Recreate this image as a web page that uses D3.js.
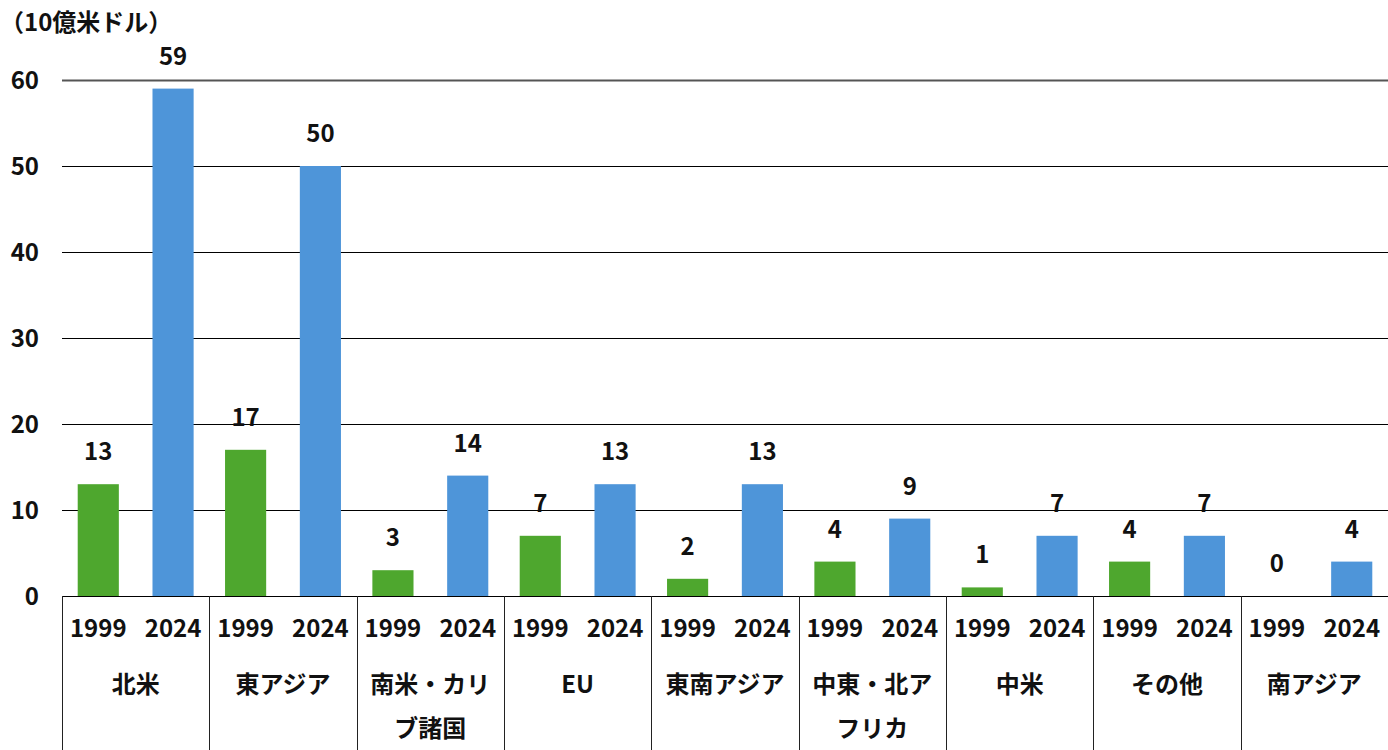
<!DOCTYPE html>
<html>
<head>
<meta charset="utf-8">
<script src="https://cdn.jsdelivr.net/npm/d3@7"></script>
<style>
  body { margin: 0; background: #fff; }
  text { font-family: "Noto Sans CJK JP", "Noto Sans", sans-serif; font-weight: 700; fill: #111; }
</style>
</head>
<body>
<script>
// data
const categories = ["北米", "東アジア", "南米・カリブ諸国", "EU", "東南アジア", "中東・北アフリカ", "中米", "その他", "南アジア"];
const categoryLines = [["北米"], ["東アジア"], ["南米・カリ", "ブ諸国"], ["EU"], ["東南アジア"], ["中東・北ア", "フリカ"], ["中米"], ["その他"], ["南アジア"]];
const years = ["1999", "2024"];
const values1999 = [13, 17, 3, 7, 2, 4, 1, 4, 0];
const values2024 = [59, 50, 14, 13, 13, 9, 7, 7, 4];
const yTicks = [0, 10, 20, 30, 40, 50, 60];
const unitLabel = "（10億米ドル）";

const width = 1388, height = 750;
const plotLeft = 62, plotRight = 1388, plotTop = 80, plotBottom = 596;
const colors = {"1999": "#4ea72e", "2024": "#4e95d9"};

const svg = d3.select("body").append("svg")
    .attr("width", width)
    .attr("height", height);

const x = d3.scaleBand()
    .domain(categories)
    .range([plotLeft, plotRight]);

const xInner = d3.scaleBand()
    .domain(years)
    .range([0, x.bandwidth()])
    .paddingInner(0.45)
    .paddingOuter(0.21);

const y = d3.scaleLinear()
    .domain([0, 60])
    .range([plotBottom, plotTop]);

//gridlines (behind the bars)
svg.append("g")
    .selectAll("line")
    .data(yTicks.filter(d => d > 0))
    .enter()
    .append("line")
    .attr("x1", plotLeft)
    .attr("x2", plotRight)
    .attr("y1", d => y(d) + 0.5)
    .attr("y2", d => y(d) + 0.5)
    .attr("stroke", d => d == 60 ? "#555" : "#000")
    .attr("stroke-width", d => d == 60 ? 2 : 1);

//y tick labels
svg.append("g")
    .selectAll("text")
    .data(yTicks)
    .enter()
    .append("text")
    .attr("x", 39)
    .attr("y", d => y(d))
    .attr("dy", "0.36em")
    .attr("text-anchor", "end")
    .style("font-size", "24px")
    .text(d => d);

svg.append("text")
    .attr("x", 0)
    .attr("y", 31)
    .style("font-size", "24px")
    .text(unitLabel);

//bars
const rows = categories.map((c, i) => ({
    cat: c,
    lines: categoryLines[i],
    vals: [{year: "1999", v: values1999[i]}, {year: "2024", v: values2024[i]}]
}));

const groups = svg.selectAll(".grp")
    .data(rows)
    .enter()
    .append("g")
    .attr("class", "grp")
    .attr("transform", d => "translate(" + x(d.cat) + ",0)");

groups.selectAll("rect")
    .data(d => d.vals)
    .enter()
    .append("rect")
    .attr("x", d => xInner(d.year))
    .attr("y", d => y(d.v))
    .attr("width", xInner.bandwidth())
    .attr("height", d => plotBottom - y(d.v))
    .attr("fill", d => colors[d.year]);

//value labels
groups.selectAll(".val")
    .data(d => d.vals)
    .enter()
    .append("text")
    .attr("class", "val")
    .attr("x", d => xInner(d.year) + xInner.bandwidth() / 2)
    .attr("y", d => y(d.v) - 24)
    .attr("text-anchor", "middle")
    .style("font-size", "24px")
    .text(d => d.v);

//year labels under the axis
groups.selectAll(".yr")
    .data(d => d.vals)
    .enter()
    .append("text")
    .attr("class", "yr")
    .attr("x", d => xInner(d.year) + xInner.bandwidth() / 2)
    .attr("y", 637)
    .attr("text-anchor", "middle")
    .style("font-size", "24px")
    .text(d => d.year);

//category labels, split in lines
groups.selectAll(".cat")
    .data(d => d.lines)
    .enter()
    .append("text")
    .attr("class", "cat")
    .attr("x", x.bandwidth() / 2)
    .attr("y", (d, i) => 693 + i * 44)
    .attr("text-anchor", "middle")
    .style("font-size", "24px")
    .text(d => d);

//axis line and group dividers
svg.append("line")
    .attr("x1", plotLeft)
    .attr("x2", plotRight)
    .attr("y1", plotBottom + 0.5)
    .attr("y2", plotBottom + 0.5)
    .attr("stroke", "#000")
    .attr("stroke-width", 1.2);

svg.append("g")
    .selectAll("line")
    .data(categories)
    .enter()
    .append("line")
    .attr("x1", d => Math.round(x(d)) + 0.5)
    .attr("x2", d => Math.round(x(d)) + 0.5)
    .attr("y1", plotBottom)
    .attr("y2", height)
    .attr("stroke", "#222")
    .attr("stroke-width", 1);
</script>
</body>
</html>
